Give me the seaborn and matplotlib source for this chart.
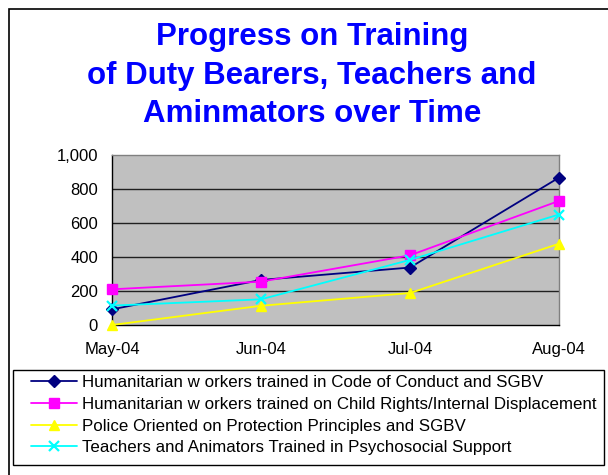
import pandas as pd
import matplotlib.pyplot as plt
import seaborn as sns
from matplotlib.patches import Rectangle
from matplotlib.ticker import FuncFormatter

# data
months = ['May-04', 'Jun-04', 'Jul-04', 'Aug-04']
code_conduct = [92, 265, 338, 867]
child_rights = [210, 255, 410, 730]
police = [0, 113, 188, 478]
teachers = [114, 151, 383, 650]

series_names = ['Humanitarian w orkers trained in Code of Conduct and SGBV',
                'Humanitarian w orkers trained on Child Rights/Internal Displacement',
                'Police Oriented on Protection Principles and SGBV',
                'Teachers and Animators Trained in Psychosocial Support']
series_values = [code_conduct, child_rights, police, teachers]
colors = ['#000080', '#FF00FF', '#FFFF00', '#00FFFF']
markers = ['D', 's', '^', 'x']
msizes = [6.5, 6.5, 7.5, 7.5]

title_lines = ['Progress on Training', 'of Duty Bearers, Teachers and', 'Aminmators over Time']

sns.set_theme(style='white')
plt.rcParams['font.family'] = ['Liberation Sans', 'DejaVu Sans']

fig = plt.figure(figsize=(6.08, 4.75), dpi=100)
W, H = 608, 475
ax = fig.add_axes([112 / W, 1 - 325 / H, (559 - 112) / W, (325 - 155) / H])

# long-form table for seaborn
rows = []
for name, vals in zip(series_names, series_values):
    for i, v in enumerate(vals):
        rows.append({'pos': i, 'value': v, 'series': name})
df = pd.DataFrame(rows)

for name, c, m, ms in zip(series_names, colors, markers, msizes):
    sub = df[df['series'] == name]
    sns.lineplot(data=sub, x='pos', y='value', ax=ax, color=c, marker=m,
                 markersize=ms, markeredgecolor=c, markeredgewidth=1.6 if m == 'x' else 1,
                 linewidth=1.3, label=name, clip_on=False, zorder=3)

ax.set_facecolor('#C0C0C0')
ax.set_xlim(0, 3)
ax.set_ylim(0, 1000)
ax.set_xticks(range(len(months)))
ax.set_xticklabels(months)
ax.set_yticks(range(0, 1001, 200))
ax.yaxis.set_major_formatter(FuncFormatter(lambda v, p: f'{int(v):,}'))
ax.set_xlabel('')
ax.set_ylabel('')
ax.tick_params(axis='both', direction='out', length=5, width=1, color='black',
               labelsize=12, labelcolor='black', pad=5)
ax.tick_params(axis='x', pad=7)
ax.grid(False)
for y in range(200, 1000, 200):
    ax.axhline(y, color='#202020', linewidth=1, zorder=1)

for s in ['left', 'bottom']:
    ax.spines[s].set_color('black')
    ax.spines[s].set_linewidth(1)
for s in ['top', 'right']:
    ax.spines[s].set_color('#808080')
    ax.spines[s].set_linewidth(1)

# title, one line at a time (baselines)
for line, yb in zip(title_lines, [45, 84, 122]):
    fig.text(312 / W, 1 - yb / H, line, ha='center', va='baseline',
             fontsize=22.5, fontweight='bold', color='#0000FF')

leg = ax.legend(loc='upper left', bbox_to_anchor=(31 / W, 1 - 375 / H),
                bbox_transform=fig.transFigure, fontsize=12.2, frameon=False,
                handlelength=2.7, handletextpad=0.3, labelspacing=0.4,
                borderpad=0, borderaxespad=0)
for t in leg.get_texts():
    t.set_color('black')

# legend box
fig.patches.append(Rectangle((13 / W, 1 - 465 / H), (604 - 13) / W, (465 - 370) / H,
                             transform=fig.transFigure, fill=False, edgecolor='black',
                             linewidth=1))

# chart border
fig.patches.append(Rectangle((9 / W, -0.05), 1.05, 1 - 9 / H + 0.05, transform=fig.transFigure,
                             fill=False, edgecolor='black', linewidth=1.2))

fig.savefig('out.png', dpi=100)
